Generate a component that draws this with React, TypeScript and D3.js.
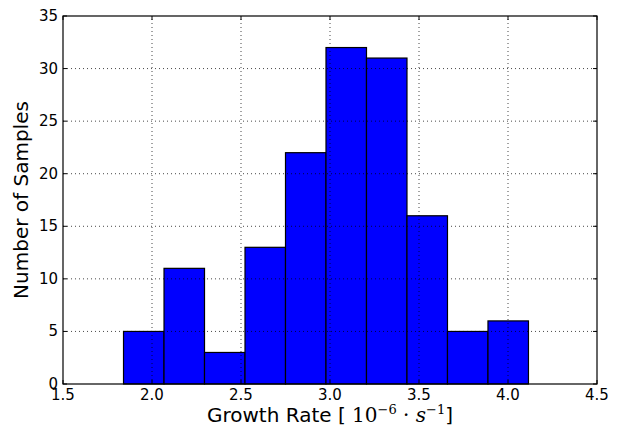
import React from 'react';
import * as d3 from 'd3';

// histogram bins (edges) and counts
const binEdges = [1.84, 2.0675, 2.295, 2.5225, 2.75, 2.9775, 3.205, 3.4325, 3.66, 3.8875, 4.115];
const counts = [5, 11, 3, 13, 22, 32, 31, 16, 5, 6];
const xTicks = [1.5, 2.0, 2.5, 3.0, 3.5, 4.0, 4.5];
const yTicks = [0, 5, 10, 15, 20, 25, 30, 35];

const W = 619;
const H = 432;
const margin = { top: 16, right: 22, bottom: 48, left: 63 };

export default function App() {
    const x = d3.scaleLinear().domain([1.5, 4.5]).range([margin.left, W - margin.right]);
    const y = d3.scaleLinear().domain([0, 35]).range([H - margin.bottom, margin.top]);
    const bars = counts.map((c, i) => ({ x0: binEdges[i], x1: binEdges[i + 1], c }));
    const tickFont = 'DejaVu Sans, sans-serif';

    return (
        <svg width={W} height={H} style={{ position: 'absolute', left: 0, top: 0 }}>
            <rect x={0} y={0} width={W} height={H} fill="white" />
            <g>
                {bars.map((b, i) => (
                    <rect key={i} x={x(b.x0)} y={y(b.c)} width={x(b.x1) - x(b.x0)} height={y(0) - y(b.c)}
                        fill="#0000ff" stroke="black" strokeWidth={1.2} />
                ))}
            </g>
            {/* grid on top, classic style */}
            <g stroke="black" strokeWidth={0.8} strokeDasharray="1,3" opacity={0.9}>
                {xTicks.slice(1, -1).map(t => (
                    <line key={'gx' + t} x1={x(t)} x2={x(t)} y1={y(0)} y2={y(35)} />
                ))}
                {yTicks.slice(1, -1).map(t => (
                    <line key={'gy' + t} x1={x(1.5)} x2={x(4.5)} y1={y(t)} y2={y(t)} />
                ))}
            </g>
            {/* ticks inside, all sides */}
            <g stroke="black" strokeWidth={1}>
                {xTicks.map(t => (
                    <g key={'tx' + t}>
                        <line x1={x(t)} x2={x(t)} y1={y(0)} y2={y(0) - 4} />
                        <line x1={x(t)} x2={x(t)} y1={y(35)} y2={y(35) + 4} />
                    </g>
                ))}
                {yTicks.map(t => (
                    <g key={'ty' + t}>
                        <line x1={x(1.5)} x2={x(1.5) + 4} y1={y(t)} y2={y(t)} />
                        <line x1={x(4.5)} x2={x(4.5) - 4} y1={y(t)} y2={y(t)} />
                    </g>
                ))}
            </g>
            <rect x={x(1.5)} y={y(35)} width={x(4.5) - x(1.5)} height={y(0) - y(35)}
                fill="none" stroke="black" strokeWidth={1.2} />
            <g fontFamily={tickFont} fontSize={15} fill="black">
                {xTicks.map(t => (
                    <text key={'lx' + t} x={x(t)} y={y(0) + 16} textAnchor="middle">{d3.format('.1f')(t)}</text>
                ))}
                {yTicks.map(t => (
                    <text key={'ly' + t} x={x(1.5) - 5} y={y(t) + 5} textAnchor="end">{t}</text>
                ))}
            </g>
            <text x={(x(1.5) + x(4.5)) / 2} y={H - 10} textAnchor="middle" fontFamily={tickFont} fontSize={20}>
                Growth Rate [
                <tspan fontFamily="DejaVu Serif, serif"> 10</tspan>
                <tspan fontFamily="DejaVu Serif, serif" fontSize={13} dy={-8}>−6</tspan>
                <tspan fontFamily="DejaVu Serif, serif" dy={8}> · </tspan>
                <tspan fontFamily="DejaVu Serif, serif" fontStyle="italic">s</tspan>
                <tspan fontFamily="DejaVu Serif, serif" fontSize={13} dy={-8}>−1</tspan>
                <tspan dy={8}>]</tspan>
            </text>
            <text transform={`translate(28,${(y(0) + y(35)) / 2}) rotate(-90)`} textAnchor="middle"
                fontFamily={tickFont} fontSize={20}>Number of Samples</text>
        </svg>
    );
}
